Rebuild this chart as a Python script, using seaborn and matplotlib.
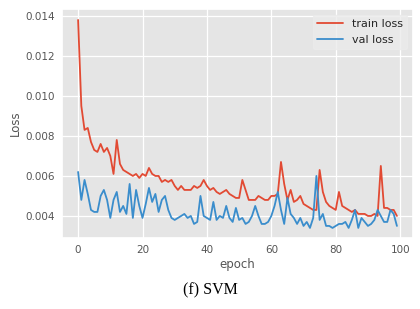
import numpy as np
import pandas as pd
import matplotlib
matplotlib.use("Agg")
import matplotlib.pyplot as plt
import seaborn as sns

# --- loss values (100 epochs) ---
train_loss = [
    0.0138, 0.0095, 0.0083, 0.0084, 0.0077, 0.0073, 0.0072, 0.0076, 0.0072, 0.0074,
    0.0070, 0.0061, 0.0078, 0.0066, 0.0063, 0.0062, 0.0061, 0.0060, 0.0061, 0.0059,
    0.0061, 0.0060, 0.0064, 0.0061, 0.0060, 0.0060, 0.0057, 0.0058, 0.0057, 0.0058,
    0.0055, 0.0053, 0.0055, 0.0053, 0.0053, 0.0053, 0.0055, 0.0054, 0.0055, 0.0058,
    0.0055, 0.0053, 0.0054, 0.0052, 0.0051, 0.0052, 0.0053, 0.0051, 0.0050, 0.0049,
    0.0049, 0.0058, 0.0053, 0.0048, 0.0048, 0.0048, 0.0050, 0.0049, 0.0048, 0.0048,
    0.0050, 0.0050, 0.0051, 0.0067, 0.0056, 0.0048, 0.0053, 0.0047, 0.0048, 0.0050,
    0.0046, 0.0045, 0.0044, 0.0043, 0.0043, 0.0063, 0.0052, 0.0047, 0.0045, 0.0044,
    0.0043, 0.0052, 0.0045, 0.0044, 0.0043, 0.0042, 0.0043, 0.0041, 0.0041, 0.0041,
    0.0040, 0.0040, 0.0041, 0.0040, 0.0065, 0.0044, 0.0044, 0.0043, 0.0043, 0.0040,
]
val_loss = [
    0.0062, 0.0048, 0.0058, 0.0051, 0.0043, 0.0042, 0.0042, 0.0050, 0.0053, 0.0048,
    0.0039, 0.0048, 0.0052, 0.0042, 0.0045, 0.0041, 0.0056, 0.0039, 0.0053, 0.0045,
    0.0039, 0.0046, 0.0054, 0.0047, 0.0051, 0.0042, 0.0048, 0.0050, 0.0043, 0.0039,
    0.0038, 0.0039, 0.0040, 0.0041, 0.0039, 0.0040, 0.0036, 0.0037, 0.0050, 0.0040,
    0.0039, 0.0038, 0.0047, 0.0038, 0.0040, 0.0039, 0.0045, 0.0039, 0.0037, 0.0044,
    0.0038, 0.0039, 0.0036, 0.0037, 0.0040, 0.0045, 0.0040, 0.0036, 0.0036, 0.0037,
    0.0040, 0.0045, 0.0052, 0.0043, 0.0036, 0.0049, 0.0041, 0.0039, 0.0036, 0.0039,
    0.0035, 0.0037, 0.0034, 0.0039, 0.0060, 0.0038, 0.0041, 0.0035, 0.0035, 0.0034,
    0.0035, 0.0036, 0.0036, 0.0037, 0.0034, 0.0038, 0.0043, 0.0034, 0.0039, 0.0037,
    0.0035, 0.0036, 0.0038, 0.0043, 0.0040, 0.0037, 0.0037, 0.0043, 0.0041, 0.0035,
]
epochs = np.arange(len(train_loss))
y_ticks = [0.004, 0.006, 0.008, 0.010, 0.012, 0.014]
x_ticks = [0, 20, 40, 60, 80, 100]

df = pd.DataFrame({"epoch": epochs, "train loss": train_loss, "val loss": val_loss})
long_df = df.melt(id_vars="epoch", var_name="series", value_name="loss")

# --- style: ggplot-like gray panel ---
sns.set_theme(style="darkgrid", rc={
    "axes.facecolor": "#E5E5E5",
    "grid.color": "white",
    "grid.linewidth": 0.9,
    "axes.labelcolor": "#555555",
    "xtick.color": "#555555",
    "ytick.color": "#555555",
})
plt.rcParams["font.family"] = ["DejaVu Sans"]

fig = plt.figure(figsize=(4.2, 3.09), dpi=100)
ax = fig.add_axes([0.148, 0.230, 0.835, 0.741])

sns.lineplot(data=long_df, x="epoch", y="loss", hue="series",
             palette=["#E24A33", "#3A8DCC"], linewidth=1.3, ax=ax)

ax.set_xticks(x_ticks)
ax.set_yticks(y_ticks)
ax.set_ylim(0.0029, 0.01435)
ax.tick_params(labelsize=7.5, length=0, pad=5)
ax.set_xlabel("epoch", fontsize=8.5, labelpad=2)
ax.set_ylabel("Loss", fontsize=8.5, labelpad=3)

leg = ax.legend(loc="upper right", fontsize=8, frameon=True, handlelength=2.3)
leg.set_title(None)
leg.get_frame().set_facecolor("#EBEBEB")
leg.get_frame().set_edgecolor("#EBEBEB")

fig.text(0.5, 0.035, "(f) SVM", family="Liberation Serif", fontsize=11.5,
         ha="center", va="bottom", color="black")

fig.savefig("out.png", dpi=100)
